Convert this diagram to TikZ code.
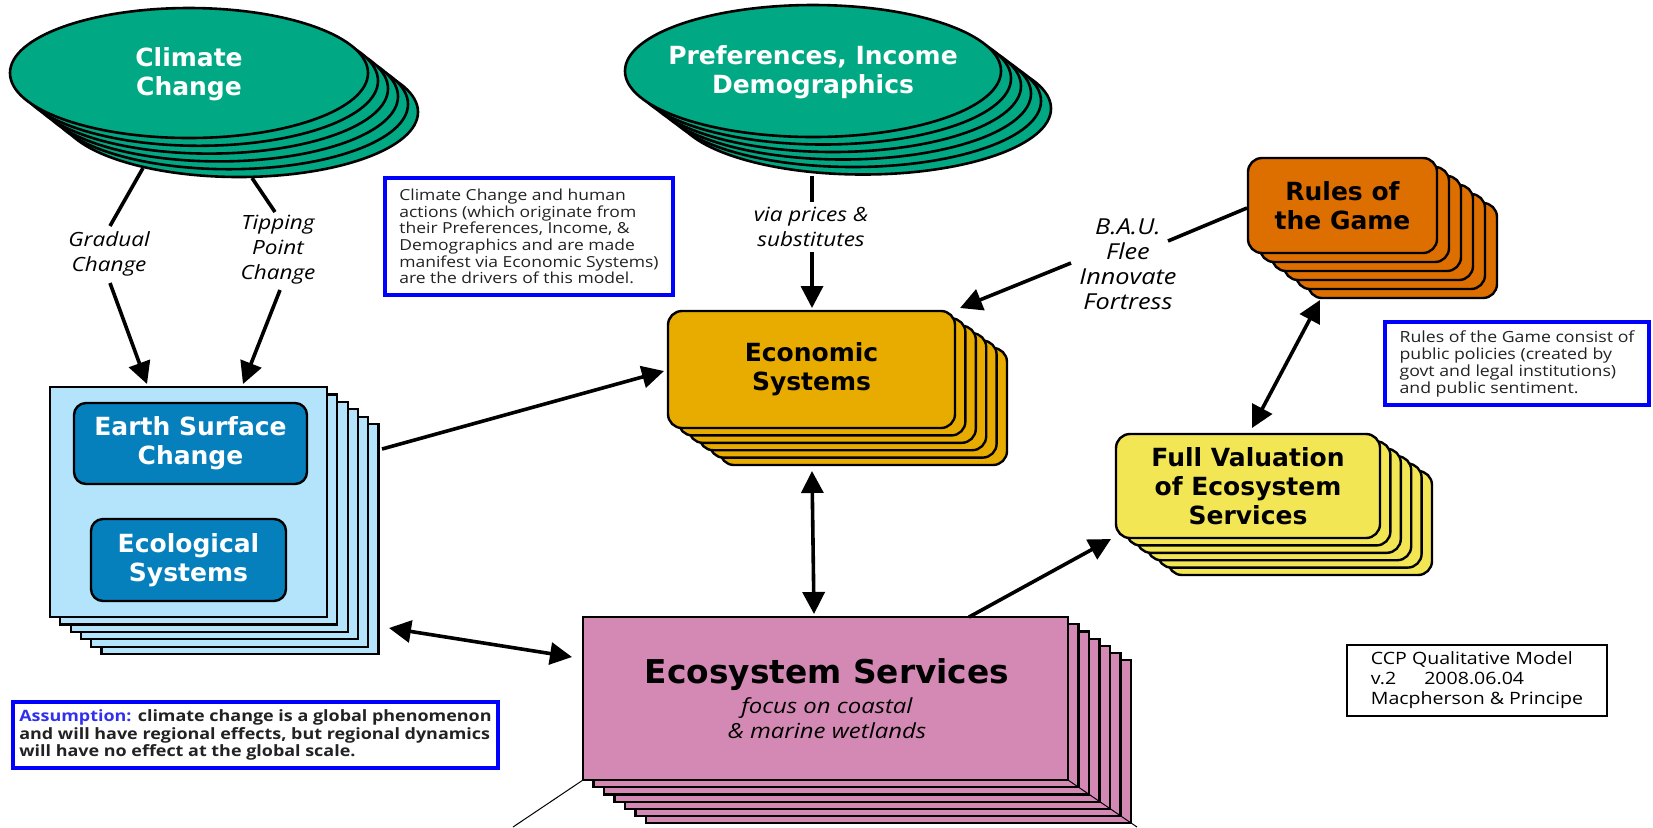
\documentclass[tikz,border=0pt]{standalone}
\usepackage{fontspec}
\setmainfont{Open Sans}[FakeStretch=1.15]
\newfontfamily\ttl{DejaVu Sans}
\usetikzlibrary{arrows.meta,shapes.geometric}
\definecolor{cgreen}{HTML}{00A983}
\definecolor{cltblue}{HTML}{B3E4FB}
\definecolor{cdblue}{HTML}{0580BD}
\definecolor{cgold}{HTML}{E8AC00}
\definecolor{corange}{HTML}{DD6E00}
\definecolor{cyellow}{HTML}{F3E655}
\definecolor{cpink}{HTML}{D489B4}
\definecolor{cnote}{HTML}{0000FF}
\definecolor{cassum}{HTML}{3030EE}
\definecolor{ctext}{HTML}{222222}
\begin{document}
\begin{tikzpicture}[x=0.5pt,y=-0.5pt,
 conn/.style={line width=1.8pt},
 arr/.style={conn,-{Triangle[length=11pt,width=11pt]}},
 darr/.style={conn,{Triangle[length=11pt,width=11pt]}-{Triangle[length=11pt,width=11pt]}},
 ttlw/.style={text=white,font=\ttl\bfseries\fontsize{12.5}{14.5}\selectfont,align=center},
 ttlk/.style={text=black,font=\ttl\bfseries\fontsize{12.5}{14.5}\selectfont,align=center},
 lbl/.style={font=\itshape\fontsize{9.8}{12.5}\selectfont,align=center,inner sep=0pt},
 ell/.style={draw=black,line width=1.3pt,fill=cgreen},
 card/.style={draw=black,line width=1.2pt,rounded corners=7pt},
 sq/.style={draw=black,line width=1.1pt},
 note/.style={draw=cnote,line width=2pt,fill=white,align=left,inner sep=0pt,text=ctext},
 thinl/.style={line width=0.5pt}
]
\useasboundingbox (0,0) rectangle (1653,827);
\fill[white] (0,0) rectangle (1653,827);

% Climate Change ellipse stack
\foreach \i in {5,4,...,1}
  \draw[ell] ({189+10*\i},{73+7.8*\i}) ellipse [x radius=89.5pt, y radius=32.5pt];
\node[ell,ellipse,minimum width=179pt,minimum height=65pt,inner sep=0pt] (cc) at (189,73) {};
\node[ttlw] (cctext) at (189,74) {Climate\\Change};

% Preferences ellipse stack
\foreach \i in {5,4,...,1}
  \draw[ell] ({813+10*\i},{71+7.5*\i}) ellipse [x radius=94pt, y radius=33pt];
\node[ell,ellipse,minimum width=188pt,minimum height=66pt,inner sep=0pt] (pref) at (813,71) {};
\node[ttlw] (preftext) at (813,72) {Preferences, Income\\Demographics};

% Earth system stack
\foreach \i in {5,4,...,1}
  \draw[sq,fill=cltblue] ({50+10.3*\i},{387+7.4*\i}) rectangle ({327+10.3*\i},{617+7.4*\i});
\node[sq,fill=cltblue,minimum width=138.5pt,minimum height=115pt] (esys) at (188.5,502) {};
\node[card,fill=cdblue,rounded corners=6pt,minimum width=116.5pt,minimum height=40.5pt,ttlw] (earth) at (190.5,443.5) {Earth Surface\\Change};
\node[card,fill=cdblue,rounded corners=6pt,minimum width=97.5pt,minimum height=41pt,ttlw] (ecol) at (188.5,560) {Ecological\\Systems};

% Economic systems stack
\foreach \i in {5,4,...,1}
  \draw[card,fill=cgold] ({668+10.4*\i},{311+7.4*\i}) rectangle ({955+10.4*\i},{428+7.4*\i});
\node[card,fill=cgold,ttlk,minimum width=143.5pt,minimum height=58.5pt] (econ) at (811.5,369.5) {Economic\\Systems};

% Rules of the game stack
\foreach \i in {5,4,...,1}
  \draw[card,fill=corange] ({1248+12*\i},{158+9*\i}) rectangle ({1437+12*\i},{253+9*\i});
\node[card,fill=corange,ttlk,minimum width=94.5pt,minimum height=47.5pt] (rules) at (1342.5,205.5) {Rules of\\the Game};

% Full valuation stack
\foreach \i in {5,4,...,1}
  \draw[card,fill=cyellow] ({1116+10.4*\i},{434+7.4*\i}) rectangle ({1380+10.4*\i},{538+7.4*\i});
\node[card,fill=cyellow,ttlk,minimum width=132pt,minimum height=52pt] (fullval) at (1248,486) {Full Valuation\\of Ecosystem\\Services};

% Ecosystem services stack
\foreach \i in {6,5,...,1}
  \draw[sq,fill=cpink] ({583+10.5*\i},{617+7.2*\i}) rectangle ({1068+10.5*\i},{780+7.2*\i});
\node[sq,fill=cpink,minimum width=242.5pt,minimum height=81.5pt] (ecoserv) at (825.5,698.5) {};
\node[ttlk,font=\ttl\bfseries\fontsize{16.4}{19}\selectfont] (esname) at (827,675) {Ecosystem Services};
\node[lbl,font=\itshape\fontsize{10.4}{12.6}\selectfont] (esfocus) at (827,718) {focus on coastal\\\& marine wetlands};
\coordinate (ebl) at (583,780);
\coordinate (ebl2) at (513,827);
\coordinate (ebr) at (1068,780);
\coordinate (ebr2) at (1137,827);
\draw[thinl] (ebl) -- (ebl2);
\draw[thinl] (ebr) -- (ebr2);

% connector labels
\node[lbl] (grad) at (109,254) {Gradual\\Change};
\node[lbl] (tipp) at (278,250) {Tipping\\Point\\Change};
\node[lbl] (via) at (811,227) {via prices \&\\substitutes};
\node[lbl,font=\itshape\fontsize{11}{12.5}\selectfont] (bau) at (1128,264) {B.A.U.\\Flee\\Innovate\\Fortress};

% connectors
\coordinate (g0) at (143,168); \coordinate (g1) at (110,226);
\coordinate (g2) at (110,283); \coordinate (g3) at (147,384);
\draw[conn] (g0) -- (g1); \draw[arr] (g2) -- (g3);
\coordinate (t0) at (252,178); \coordinate (t1) at (275,212);
\coordinate (t2) at (280,290); \coordinate (t3) at (243,384);
\draw[conn] (t0) -- (t1); \draw[arr] (t2) -- (t3);
\coordinate (p0) at (812,176); \coordinate (p1) at (812,202);
\coordinate (p2) at (812,252); \coordinate (p3) at (812,308);
\draw[conn] (p0) -- (p1); \draw[arr] (p2) -- (p3);
\coordinate (r0) at (1247,208); \coordinate (r1) at (1168,241);
\coordinate (r2) at (1071,263); \coordinate (r3) at (960,308);
\draw[conn] (r0) -- (r1); \draw[arr] (r2) -- (r3);
\coordinate (b0) at (382,449); \coordinate (b1) at (664,371);
\draw[arr] (b0) -- (b1);
\coordinate (bp0) at (389,628); \coordinate (bp1) at (572,657);
\draw[darr] (bp0) -- (bp1);
\coordinate (ep0) at (812,471); \coordinate (ep1) at (814,614);
\draw[darr] (ep0) -- (ep1);
\coordinate (pf0) at (969,617); \coordinate (pf1) at (1111,539);
\draw[arr] (pf0) -- (pf1);
\coordinate (rf0) at (1320,300); \coordinate (rf1) at (1252,428);
\draw[darr] (rf0) -- (rf1);

% notes
\node[note,minimum width=144pt,minimum height=58.5pt,font=\fontsize{7.6}{8.35}\selectfont] (drivers) at (529,236.5)
 {Climate Change and human\\actions (which originate from\\their Preferences, Income, \&\\Demographics and are made\\manifest via Economic Systems)\\are the drivers of this model.};
\node[note,minimum width=132pt,minimum height=41.5pt,font=\fontsize{7.7}{8.5}\selectfont] (rulesnote) at (1517,363.5)
 {Rules of the Game consist of\\public policies (created by\\govt and legal institutions)\\and public sentiment.};
\node[note,minimum width=242.5pt,minimum height=33pt,font=\bfseries\fontsize{7.8}{8.75}\selectfont] (assum) at (255.5,735)
 {{\color{cassum}Assumption:} climate change is a global phenomenon\\and will have regional effects, but regional dynamics\\will have no effect at the global scale.};
\node[draw=black,line width=1.3pt,fill=white,align=left,inner sep=0pt,minimum width=130pt,minimum height=35.5pt,font=\fontsize{8.5}{10}\selectfont] (ccp) at (1477,680.5)
 {CCP Qualitative Model\\v.2\hspace{14pt}2008.06.04\\Macpherson \& Principe};
\end{tikzpicture}
\end{document}
